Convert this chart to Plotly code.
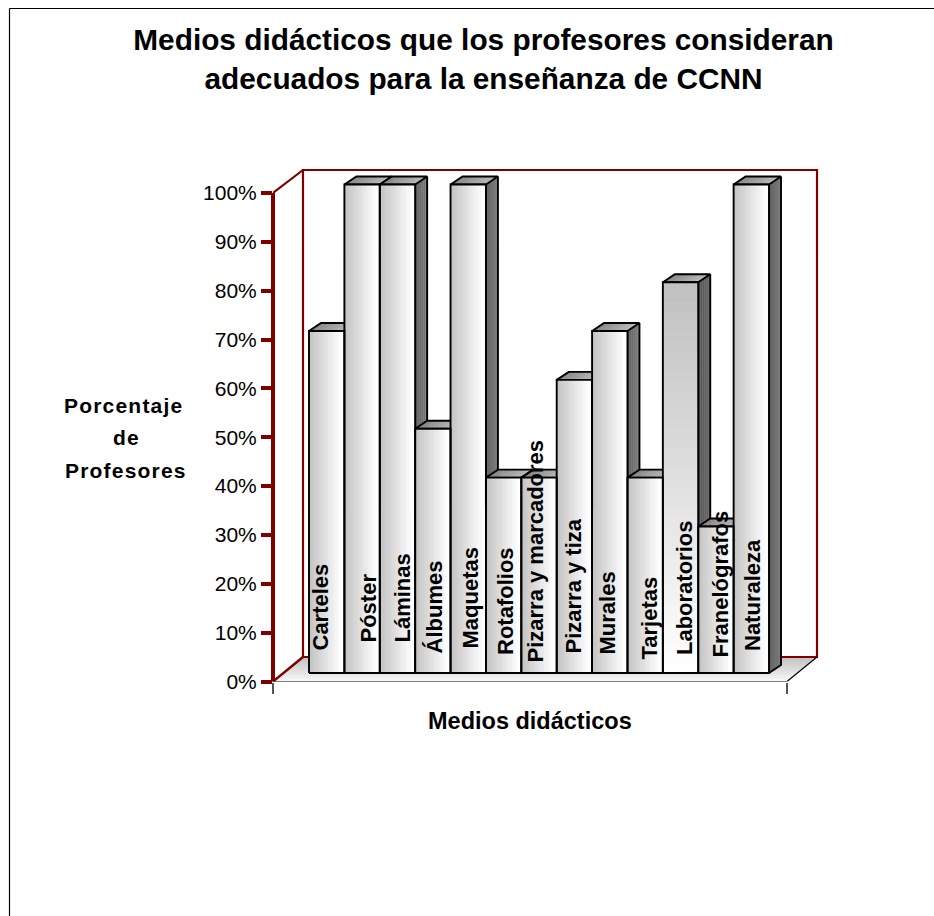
import plotly.graph_objects as go

categories = ["Carteles", "Póster", "Láminas", "Álbumes", "Maquetas", "Rotafolios",
              "Pizarra y marcadores", "Pizarra y tiza", "Murales", "Tarjetas",
              "Laboratorios", "Franelógrafos", "Naturaleza"]
values = [70, 100, 100, 50, 100, 40, 40, 60, 70, 40, 80, 30, 100]
y_ticks = [0, 10, 20, 30, 40, 50, 60, 70, 80, 90, 100]
title_text = "Medios didácticos que los profesores consideran<br>adecuados para la enseñanza de CCNN"
x_title = "Medios didácticos"
y_title_lines = ["Porcentaje", "de", "Profesores"]

# ---- layout constants (pixels of the 934x916 page) ----
W, H = 934, 916
PX_LEFT, PX_RIGHT, PX_FLOOR_R = 273, 817, 787
PX_Y0, PX_Y100, PX_TOP = 681.5, 193.0, 170.0
PX_PLOT_RIGHT, PX_PLOT_TOP = 830, 160
PX_BAR0, PX_BARW = 309.0, 35.385
PX_PER_PCT = (PX_Y0 - PX_Y100) / 100
MAROON = "#800000"


def xa(px):
    return (px - PX_BAR0) / PX_BARW - 0.5


def ya(px):
    return (PX_Y0 - px) / PX_PER_PCT


WALL_DX, WALL_DY = 30 / PX_BARW, 24.5 / PX_PER_PCT
BAR_DX, BAR_DY = 12 / PX_BARW, 8 / PX_PER_PCT
LIFT = 8.5 / PX_PER_PCT
x0a, x1a = xa(PX_LEFT), xa(PX_FLOOR_R)
wall_top = ya(PX_TOP)
x_range = [x0a, xa(PX_PLOT_RIGHT)]
y_range = [0, ya(PX_PLOT_TOP)]


def hexg(v):
    v = int(round(v))
    return f"#{v:02x}{v:02x}{v:02x}"


fig = go.Figure()


def poly(xs, ys, fill=None, line=None, width=0, axes=("x", "y")):
    fig.add_trace(go.Scatter(
        x=xs, y=ys, mode="lines", xaxis=axes[0], yaxis=axes[1],
        fill="toself" if fill else None, fillcolor=fill,
        line=dict(color=line or fill or "rgba(0,0,0,0)", width=width),
        cliponaxis=False, hoverinfo="skip", showlegend=False))


# floor: bands from the back wall (grey) to the front edge (almost white)
N_FLOOR = 14
for k in range(N_FLOOR):
    t0, t1 = k / N_FLOOR, (k + 1) / N_FLOOR
    g = 190 + (248 - 190) * (k + .5) / N_FLOOR
    y0, y1 = WALL_DY * (1 - t0), WALL_DY * (1 - t1)
    dx0, dx1 = WALL_DX * (1 - t0), WALL_DX * (1 - t1)
    poly([x0a + dx0, x1a + dx0, x1a + dx1, x0a + dx1, x0a + dx0],
         [y0, y0, y1, y1, y0], fill=hexg(g), line=hexg(g), width=0.5)

# back wall and left wall edges
poly([x0a + WALL_DX, x1a + WALL_DX, x1a + WALL_DX, x0a + WALL_DX, x0a + WALL_DX],
     [WALL_DY, WALL_DY, wall_top, wall_top, WALL_DY], line=MAROON, width=2.2)
poly([x0a, x0a + WALL_DX], [100, wall_top], line=MAROON, width=2.2)
poly([x0a, x0a + WALL_DX], [0, WALL_DY], line=MAROON, width=2.5)
# floor front and right edges
poly([x0a, x1a, x1a + WALL_DX], [0, 0, WALL_DY], line="#000000", width=1.2)

# sides and tops, left to right (each bar hides part of the previous one)
N_DEPTH = 6
for i, v in enumerate(values):
    left, right = i - 0.5, i + 0.5
    b, t = LIFT, v + LIFT
    dark = categories[i] == "Laboratorios"
    for k in range(N_DEPTH):
        f0, f1 = k / N_DEPTH, (k + 1) / N_DEPTH
        g = (96 + 30 * (k + .5) / N_DEPTH) if not dark else (88 + 14 * (k + .5) / N_DEPTH)
        poly([right + BAR_DX * f0, right + BAR_DX * f1, right + BAR_DX * f1, right + BAR_DX * f0, right + BAR_DX * f0],
             [b + BAR_DY * f0, b + BAR_DY * f1, t + BAR_DY * f1, t + BAR_DY * f0, b + BAR_DY * f0],
             fill=hexg(g), line=hexg(g), width=0.4)
    N_TOP = 8
    for k in range(N_TOP):
        f0, f1 = k / N_TOP, (k + 1) / N_TOP
        g = 132 + 52 * (k + .5) / N_TOP
        w = right - left
        poly([left + w * f0, left + w * f1, left + w * f1 + BAR_DX, left + w * f0 + BAR_DX, left + w * f0],
             [t, t, t + BAR_DY, t + BAR_DY, t], fill=hexg(g), line=hexg(g), width=0.4)
    poly([left, right, right + BAR_DX, right + BAR_DX, right, right, right, left, left + BAR_DX, right + BAR_DX],
         [t, t, t + BAR_DY, b + BAR_DY, b, t, t, t, t + BAR_DY, t + BAR_DY],
         line="#000000", width=1.9)

# fronts with their gradient, on an overlaid pair of axes so they cover the sides
N_GRAD = 28
for i, v in enumerate(values):
    left, b, t = i - 0.5, LIFT, v + LIFT
    xs = [left + k / N_GRAD for k in range(N_GRAD + 1)]
    if categories[i] == "Laboratorios":
        n_rows = 40
        ys = [b + (t - b) * r / n_rows for r in range(n_rows + 1)]
        z = [[255 - (255 - 192) * (r + .5) / n_rows] * N_GRAD for r in range(n_rows)]
    else:
        ys = [b, t]
        z = [[min(254, 194 + 66 * (k + .5) / N_GRAD) for k in range(N_GRAD)]]
    fig.add_trace(go.Heatmap(x=xs, y=ys, z=z, xaxis="x2", yaxis="y2", zmin=0, zmax=255,
                             colorscale=[[0, "#000000"], [1, "#ffffff"]], showscale=False,
                             hoverinfo="skip"))
for i, v in enumerate(values):
    left, right, b, t = i - 0.5, i + 0.5, LIFT, v + LIFT
    poly([left, right, right, left, left], [b, b, t, t, b], line="#000000", width=1.9,
         axes=("x2", "y2"))

# bar labels: centre x and lower end in page pixels, as placed in the picture
label_px = [320, 368, 402, 434, 470, 505, 535, 573, 607, 649, 684, 720, 752]
label_bottom_px = [653, 645, 645, 656, 651, 657, 665, 656, 657, 662, 657, 660, 653]
annotations = []
for c, lx, lb in zip(categories, label_px, label_bottom_px):
    annotations.append(dict(x=xa(lx), y=ya(lb), xref="x", yref="y",
                            text=f"<b>{c}</b>", textangle=-90,
                            showarrow=False, xanchor="center", yanchor="bottom",
                            font=dict(family="Liberation Sans", size=22, color="#000000")))
annotations.append(dict(x=529.5 / W, y=1 - 721 / H, xref="paper", yref="paper", text=f"<b>{x_title}</b>",
                        showarrow=False, xanchor="center", yanchor="middle",
                        font=dict(family="Liberation Sans", size=23.5, color="#000000")))
for line, px, py in zip(y_title_lines, [123.5, 126.5, 126], [405, 437, 470]):
    annotations.append(dict(x=px / W, y=1 - py / H, xref="paper", yref="paper",
                            text=f'<span style="letter-spacing:1.2px"><b>{line}</b></span>',
                            showarrow=False, xanchor="center", yanchor="middle",
                            font=dict(family="Liberation Sans", size=21, color="#000000")))

domain_x = [PX_LEFT / W, PX_PLOT_RIGHT / W]
domain_y = [1 - PX_Y0 / H, 1 - PX_PLOT_TOP / H]
fig.update_layout(
    width=W, height=H, autosize=False, margin=dict(l=0, r=0, t=0, b=0, autoexpand=False),
    paper_bgcolor="#ffffff", plot_bgcolor="rgba(0,0,0,0)", showlegend=False,
    font=dict(family="Liberation Sans", color="#000000"),
    title=dict(text=f"<b>{title_text}</b>", x=483.5 / W, xanchor="center", y=1 - 50 / H,
               yanchor="middle", font=dict(family="Liberation Sans", size=29.8, color="#000000")),
    xaxis=dict(domain=domain_x, range=x_range, showgrid=False, zeroline=False, showline=False,
               automargin=False,
               tickmode="array", tickvals=[x0a, x1a], ticktext=["", ""], ticks="outside",
               ticklen=11, tickwidth=1.5, tickcolor="#555555"),
    yaxis=dict(domain=domain_y, range=y_range, showgrid=False, zeroline=False, showline=False,
               automargin=False,
               tickmode="array", tickvals=y_ticks, ticktext=[f"{t}%" for t in y_ticks],
               ticks="outside", ticklen=11, tickwidth=4, tickcolor=MAROON,
               tickfont=dict(family="Liberation Sans", size=21, color="#000000")),
    xaxis2=dict(domain=domain_x, range=x_range, overlaying="x", visible=False, automargin=False),
    yaxis2=dict(domain=domain_y, range=y_range, overlaying="y", visible=False, automargin=False),
    annotations=annotations,
    shapes=[dict(type="line", xref="paper", yref="paper", x0=9.5 / W, x1=1, y0=1 - 8.5 / H, y1=1 - 8.5 / H,
                 line=dict(color="#000000", width=1.2)),
            dict(type="line", xref="paper", yref="paper", x0=9.5 / W, x1=9.5 / W, y0=0, y1=1 - 8.5 / H,
                 line=dict(color="#000000", width=1.2)),
            # y axis line, 0-100 only
            dict(type="line", xref="paper", yref="paper", x0=PX_LEFT / W, x1=PX_LEFT / W,
                 y0=1 - PX_Y0 / H, y1=1 - PX_Y100 / H, line=dict(color=MAROON, width=4))],
)
fig.write_html("out.html", config=dict(displayModeBar=False, responsive=False),
               default_width=W, default_height=H,
               post_script="document.documentElement.style.overflow='hidden';document.body.style.margin='0';")
